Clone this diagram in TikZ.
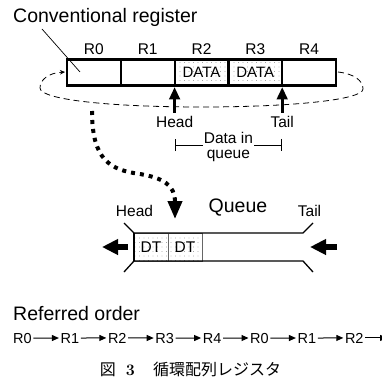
\documentclass[tikz,border=0pt]{standalone}
\usepackage{fontspec}
\newfontfamily\hv{Liberation Sans}
\newfontfamily\cjk{Noto Sans CJK JP}
\usetikzlibrary{arrows.meta,patterns.meta}

\tikzset{
  big/.style={font=\hv\fontsize{19.5}{21}\selectfont, inner sep=0pt},
  lbl/.style={font=\hv\fontsize{15.5}{15}\selectfont, inner sep=0pt},
  small/.style={font=\hv\fontsize{14.5}{15}\selectfont, inner sep=1.5pt},
  cell/.style={draw, line width=2.2pt, minimum width=53.8pt, minimum height=26pt,
    inner sep=0pt, font=\hv\fontsize{15}{15}\selectfont},
  dotfill/.style={pattern={Dots[distance=4.5pt,radius=0.45pt]}, pattern color=black!55},
  qcell/.style={draw=black!60, line width=0.9pt, minimum width=34pt, minimum height=28pt,
    inner sep=0pt, font=\hv\fontsize{15.5}{15}\selectfont},
  loopline/.style={dashed, dash pattern=on 6pt off 4pt, line width=0.8pt},
  pointer/.style={line width=3.3pt, -{Triangle[width=10.5pt,length=12.5pt]}},
  feed/.style={line width=6pt, -{Triangle[width=15pt,length=16pt]}},
  tube/.style={line width=1.3pt},
  flow/.style={line width=4pt, dash pattern=on 4pt off 5pt,
    -{Triangle[width=14pt,length=18pt]}},
  seq/.style={line width=1pt, -{Triangle[width=6pt,length=7pt]}},
}

\begin{document}
\begin{tikzpicture}[x=1pt,y=-1pt]
\fill[white] (0,0) rectangle (381,382);
\useasboundingbox (0,0) rectangle (381,382);

% ---- conventional register ----
\node[big, anchor=base west] (title) at (13,23) {Conventional register};
\coordinate (leadA) at (42,29);
\coordinate (leadB) at (80,72);

% dashed wrap-around loop (behind the cells)
\coordinate (loopS) at (338,72);
\coordinate (loopE) at (65,72);
\draw[loopline, -{Stealth[length=5pt,width=4.5pt]}]
  (loopS) .. controls (355,74) and (363,81) .. (363,89)
  .. controls (363,100) and (290,107) .. (201.5,107)
  .. controls (113,107) and (40,100) .. (40,88)
  .. controls (40,80) and (48,73) .. (loopE);

\node[cell, fill=white] (c0) at (93.9,72.5) {};
\node[cell, fill=white] (c1) at (147.7,72.5) {};
\node[cell, fill=white, dotfill] (c2) at (201.5,72.5) {DATA};
\node[cell, fill=white, dotfill] (c3) at (255.3,72.5) {DATA};
\node[cell, fill=white] (c4) at (309.1,72.5) {};
\draw[line width=0.7pt] (leadA) -- (leadB);

\foreach \i/\x in {0/93.9,1/147.7,2/201.5,3/255.3,4/309.1}
  \node[lbl, anchor=base] (r\i) at (\x,55) {R\i};

% head / tail pointers
\coordinate (hb) at (174.6,113);
\coordinate (ht) at (174.6,87);
\coordinate (tb) at (282.2,113);
\coordinate (tt) at (282.2,87);
\draw[pointer] (hb) -- (ht);
\draw[pointer] (tb) -- (tt);
\node[lbl, anchor=base] (headA) at (174.6,128) {Head};
\node[lbl, anchor=base] (tailA) at (282.2,128) {Tail};

% extent of data in queue
\coordinate (b1) at (174.6,145);
\coordinate (b2) at (282.2,145);
\draw[line width=0.9pt, {Bar[width=12pt]}-{Bar[width=12pt]}] (b1) -- (b2);
\node[lbl, fill=white, align=center, inner sep=1pt] (diq) at (228.4,146.5) {Data in\\queue};

% dotted flow to the queue
\coordinate (dS) at (92,111);
\coordinate (dE) at (175,219);
\draw[flow] (dS) .. controls (92,160) and (110,170) .. (140,174)
  .. controls (163,178) and (175,185) .. (dE);

% ---- queue ----
\node[big, anchor=base] (qtitle) at (238,212) {Queue};
\node[lbl, anchor=base] (headB) at (134.5,216) {Head};
\node[lbl, anchor=base] (tailB) at (309.5,216) {Tail};

\node[qcell, dotfill] (dt1) at (151,247) {DT};
\node[qcell, dotfill] (dt2) at (185,247) {DT};

\coordinate (qTL) at (134,233);
\coordinate (qTR) at (303,233);
\coordinate (qBL) at (134,261);
\coordinate (qBR) at (303,261);
\draw[tube] (124,223) -- (qTL) -- (qTR) -- (313,223);
\draw[tube] (124,272) -- (qBL) -- (qBR) -- (313,272);
\draw[tube] (qTL) -- (qBL);

\coordinate (laS) at (128,247);
\coordinate (laE) at (102,247);
\coordinate (raS) at (337,247);
\coordinate (raE) at (310,247);
\draw[feed] (laS) -- (laE);
\draw[feed] (raS) -- (raE);

% ---- referred order ----
\node[big, anchor=base west] (ord) at (13,320) {Referred order};
\foreach \k/\n in {0/0,1/1,2/2,3/3,4/4,5/0,6/1,7/2}
  \node[small, anchor=base west] (s\k) at ({11.5+47.4*\k},343) {R\n};
\foreach \k [evaluate=\k as \j using int(\k+1)] in {0,...,6}
  \draw[seq] (s\k.east) -- (s\j.west);
\coordinate (sEnd) at (387,0);
\draw[seq] (s7.east) -- (s7.east -| sEnd);

% ---- caption ----
\node[anchor=base, inner sep=0pt, font=\fontsize{16}{18}\selectfont] (cap) at (190.5,375)
  {{\cjk 図}\hspace{10pt}\textbf{3}\hspace{18pt}{\cjk 循環配列レジスタ}};
\end{tikzpicture}
\end{document}
